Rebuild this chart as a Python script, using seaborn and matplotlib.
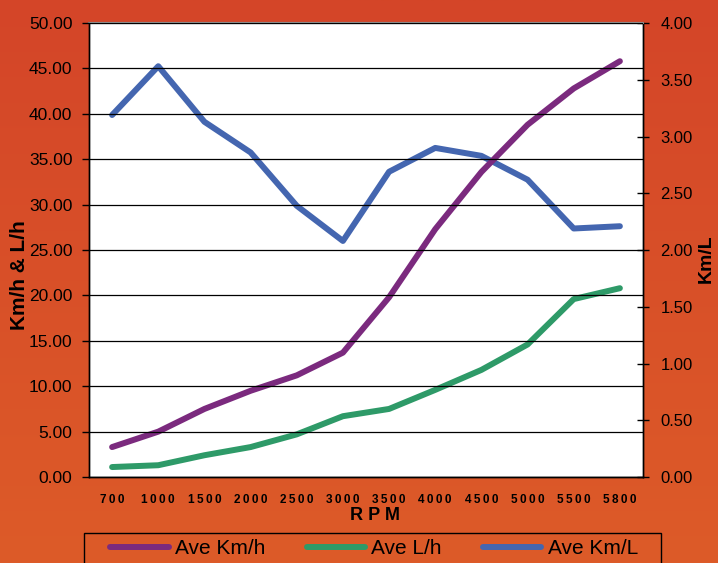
import numpy as np
import pandas as pd
import matplotlib
matplotlib.use("Agg")
import matplotlib.pyplot as plt
import seaborn as sns
from matplotlib.colors import LinearSegmentedColormap
from matplotlib.patches import Rectangle

# --- data ---
rpm = ['700', '1000', '1500', '2000', '2500', '3000', '3500',
       '4000', '4500', '5000', '5500', '5800']
ave_kmh = [3.3, 5.0, 7.5, 9.5, 11.2, 13.7, 19.8, 27.3, 33.6, 38.8, 42.8, 45.8]
ave_lh = [1.1, 1.3, 2.4, 3.3, 4.7, 6.7, 7.5, 9.6, 11.8, 14.6, 19.6, 20.8]
ave_kml = [3.19, 3.62, 3.13, 2.86, 2.39, 2.08, 2.69, 2.90, 2.83, 2.62, 2.19, 2.21]

left_ticks = [0, 5, 10, 15, 20, 25, 30, 35, 40, 45, 50]
right_ticks = [0, 0.5, 1.0, 1.5, 2.0, 2.5, 3.0, 3.5, 4.0]

df = pd.DataFrame({'rpm': rpm, 'kmh': ave_kmh, 'lh': ave_lh, 'kml': ave_kml})
df['pos'] = range(len(df))

sns.set_style("white")
plt.rcParams['font.family'] = ['Liberation Sans', 'DejaVu Sans']
plt.rcParams.update({'text.color': 'black', 'axes.labelcolor': 'black',
                     'xtick.color': 'black', 'ytick.color': 'black'})

fig = plt.figure(figsize=(7.18, 5.63), dpi=100)

# orange background gradient
bg = fig.add_axes([0, 0, 1, 1], zorder=-10)
bg.axis('off')
cmap = LinearSegmentedColormap.from_list('bg', ['#D44528', '#DD5B29'])
bg.imshow(np.linspace(0, 1, 256).reshape(-1, 1), aspect='auto', cmap=cmap,
          extent=[0, 1, 0, 1])

ax = fig.add_axes([0.124, 0.1527, 0.7715, 0.8063])
ax2 = ax.twinx()
ax.set_zorder(ax2.get_zorder() + 1)
ax.patch.set_visible(False)
ax2.patch.set_facecolor('white')
ax2.patch.set_visible(True)

lw = 4.3
sns.lineplot(data=df, x='pos', y='kml', ax=ax2, color='#4466B0', lw=lw,
             solid_capstyle='round', label='Ave Km/L', legend=False)
sns.lineplot(data=df, x='pos', y='lh', ax=ax, color='#2E9A68', lw=lw,
             solid_capstyle='round', label='Ave L/h', legend=False)
sns.lineplot(data=df, x='pos', y='kmh', ax=ax, color='#7B2A7E', lw=lw,
             solid_capstyle='round', label='Ave Km/h', legend=False)

# axes
ax.set_xlim(-0.5, len(rpm) - 0.5)
ax.set_ylim(0, 50)
ax2.set_ylim(0, 4)
ax.set_yticks(left_ticks)
ax.set_yticklabels([f"{v:.2f}" for v in left_ticks], fontsize=12.5)
ax2.set_yticks(right_ticks)
ax2.set_yticklabels([f"{v:.2f}" for v in right_ticks], fontsize=12)

ax.set_xticks(df['pos'])
ax.set_xticklabels(['\u2009'.join(r) for r in rpm], fontsize=8.5, fontweight='bold')
ax.set_xticks(np.arange(-0.5, len(rpm)), minor=True)
ax.tick_params(axis='x', which='major', length=0, pad=12)
ax.tick_params(axis='x', which='minor', length=4, width=1, color='black', direction='out')
ax.tick_params(axis='y', length=5, width=1, color='black', direction='out', pad=7)
ax2.tick_params(axis='y', length=9, width=1, color='black', direction='inout', pad=8)

ax.grid(axis='y', color='black', lw=0.9)
ax.set_axisbelow(False)

for a in (ax, ax2):
    for s in ['left', 'right', 'bottom']:
        a.spines[s].set_color('black')
        a.spines[s].set_linewidth(1)
    a.spines['top'].set_color('#888888')
    a.spines['top'].set_linewidth(1.5)

ax.set_xlabel('R P M', fontsize=13, fontweight='bold')
ax.xaxis.set_label_coords(0.516, -0.066)
ax.set_ylabel('Km/h & L/h', fontsize=15, fontweight='bold')
ax.yaxis.set_label_coords(-0.108, 0.445)
ax2.set_ylabel('Km/L', fontsize=14, fontweight='bold')
ax2.yaxis.set_label_coords(1.098, 0.482)

# legend across the bottom, framed box drawn separately
box_top = 1 - 533 / 563
fig.patches.append(Rectangle((84 / 718, -0.02), 577 / 718, box_top + 0.02,
                             transform=fig.transFigure, fill=False,
                             edgecolor='black', lw=1))
h1, l1 = ax.get_legend_handles_labels()
h2, l2 = ax2.get_legend_handles_labels()
hmap = dict(zip(l1 + l2, h1 + h2))
order = ['Ave Km/h', 'Ave L/h', 'Ave Km/L']
leg = fig.legend([hmap[k] for k in order], order, loc='upper left',
                 bbox_to_anchor=(104 / 718, 0, 540 / 718, box_top),
                 mode='expand', ncol=3, fontsize=15, frameon=False,
                 handlelength=2.8, borderaxespad=0, borderpad=0.3,
                 handletextpad=0.3, columnspacing=1.5)

fig.savefig('out.png', dpi=100)
